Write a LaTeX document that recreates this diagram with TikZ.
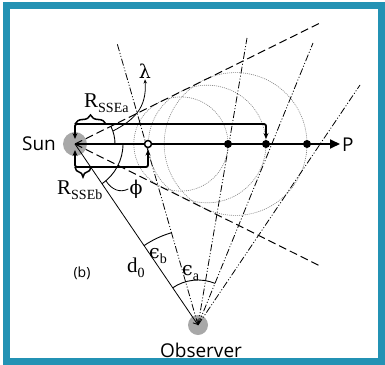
\documentclass[tikz,border=0pt]{standalone}
\usepackage[no-math]{fontspec}
\setmainfont{Open Sans}
\newfontfamily\rmlab{Liberation Serif}
\newfontfamily\grlab{DejaVu Serif}
\usetikzlibrary{arrows.meta,decorations.pathreplacing}
\definecolor{frameteal}{RGB}{35,146,180}
\definecolor{ballgray}{RGB}{168,168,168}
\newcommand{\lsub}[1]{\raisebox{-5pt}{\rmlab\fontsize{14}{15}\selectfont #1}}
\begin{document}
\begin{tikzpicture}[x=1pt,y=-1pt,
 txt/.style={font=\fontsize{19}{21}\selectfont, inner sep=0pt},
 mlab/.style={font=\rmlab\fontsize{21}{23}\selectfont, inner sep=0pt},
 glab/.style={font=\grlab\fontsize{19}{21}\selectfont, inner sep=0pt},
 ball/.style={circle, fill=ballgray, draw=none, inner sep=0pt},
 dotnode/.style={circle, fill=black, inner sep=0pt, minimum size=8pt},
 odotnode/.style={circle, fill=white, draw=black, line width=1.5pt, inner sep=0pt, minimum size=7pt},
 tangent/.style={line width=1pt, dash pattern=on 8pt off 4pt},
 los/.style={line width=0.8pt, dash pattern=on 7pt off 2pt on 1pt off 2pt on 1pt off 2pt},
 front/.style={line width=0.6pt, gray, dash pattern=on 1pt off 1pt},
 bracket/.style={line width=1.8pt, rounded corners=2pt, {Stealth[length=6pt,width=5pt]}-{Stealth[length=6pt,width=5pt]}},
 bracebar/.style={line width=1.5pt, decorate},
 anglearc/.style={line width=0.9pt},
 axisline/.style={line width=1.8pt, -{Triangle[length=10pt,width=9pt]}}
]
\useasboundingbox (0,0) rectangle (385,364);
\draw[frameteal, line width=7pt] (6,5) rectangle (381,361);

% bodies
\node[ball, minimum size=24pt] (sun) at (75,144) {};
\node[ball, minimum size=20pt] (obs) at (198,325) {};

% positions
\coordinate (c1) at (180.9,144);
\coordinate (c2) at (207.2,144);
\coordinate (c3) at (235.6,144);
\coordinate (tu) at (320,23);
\coordinate (tl) at (322,267);
\coordinate (tb) at (117,43);
\coordinate (t1) at (247,38);
\coordinate (t2) at (313,43);
\coordinate (t3) at (360,85);
\coordinate (tipP) at (340,144);
\coordinate (pO) at (148,144);
\coordinate (p1) at (228,144);
\coordinate (p2) at (266,144);
\coordinate (p3) at (307,144);

% CME fronts
\draw[front] (c1) circle[radius=47.1];
\draw[front] (c2) circle[radius=58.8];
\draw[front] (c3) circle[radius=71.4];

% tangents
\draw[tangent] (sun.center) -- (tu);
\draw[tangent] (sun.center) -- (tl);

% lines of sight
\draw[los] (obs.center) -- (tb);
\draw[los] (obs.center) -- (t1);
\draw[los] (obs.center) -- (t2);
\draw[los] (obs.center) -- (t3);

% sun-observer
\draw[line width=0.8pt, -{Straight Barb[length=4pt,width=6pt]}] (sun.center) -- (obs.center);

% axis
\draw[axisline] (sun.center) -- (tipP);

% brackets
\coordinate (sa) at (75,139);
\coordinate (sb) at (75,150);
\coordinate (ea) at (266,139);
\coordinate (eb) at (148,149.5);
\draw[bracket] (sa) -- (75,124) -- (266,124) -- (ea);
\draw[bracket] (sb) -- (75,167) -- (148,167) -- (eb);
\draw[bracebar, decoration={brace, amplitude=9pt}] (75,124) -- (106,124);
\draw[bracebar, decoration={brace, amplitude=10pt}] (91,167) -- (75,167);

% dots
\node[odotnode] (o0) at (pO) {};
\node[dotnode] (o1) at (p1) {};
\node[dotnode] (o2) at (p2) {};
\node[dotnode] (o3) at (p3) {};

% angle arcs
\draw[anglearc] (sun.center) ++(0:40) arc[start angle=0, end angle=-26.4, radius=40];
\draw[anglearc] (sun.center) ++(0:48) arc[start angle=0, end angle=55.8, radius=48];
\draw[anglearc] (obs.center) ++(-124.2:96) arc[start angle=-124.2, end angle=-106, radius=96];
\draw[anglearc] (obs.center) ++(-124.2:45) arc[start angle=-124.2, end angle=-67.8, radius=45];

% labels
\node[txt] (sunlab) at (39,144) {Sun};
\node[txt, anchor=base] (obslab) at (201,357) {Observer};
\node[txt, anchor=base west] (plab) at (342,151) {P};
\node[font=\fontsize{14}{16}\selectfont, inner sep=0pt] (blab) at (82,273) {(b)};
\node[mlab, anchor=base west] (ra) at (84,107) {R\lsub{SSEa}};
\node[mlab, anchor=base west] (rb) at (57,194) {R\lsub{SSEb}};
\node[glab] (lam) at (145,71) {λ};
\node[glab] (phi) at (136,189) {ϕ};
\node[mlab, anchor=base west] (epsb) at (149,258) {{\grlab\fontsize{19}{21}\selectfont ϵ}\lsub{b}};
\node[mlab, anchor=base west] (epsa) at (182,275) {{\grlab\fontsize{19}{21}\selectfont ϵ}\lsub{a}};
\node[mlab, anchor=base west] (d0) at (127,272) {d\lsub{0}};

% leaders
\coordinate (lamA) at (113,131);
\coordinate (phA) at (106,181);
\draw[line width=0.8pt, -{Stealth[length=4pt,width=3.5pt]}] (lamA) .. controls (134,120) and (147,108) .. ([yshift=-1pt]lam.south);
\draw[line width=0.8pt] (phA) .. controls (112,190) and (120,193) .. ([xshift=-1pt]phi.west);
\end{tikzpicture}
\end{document}
